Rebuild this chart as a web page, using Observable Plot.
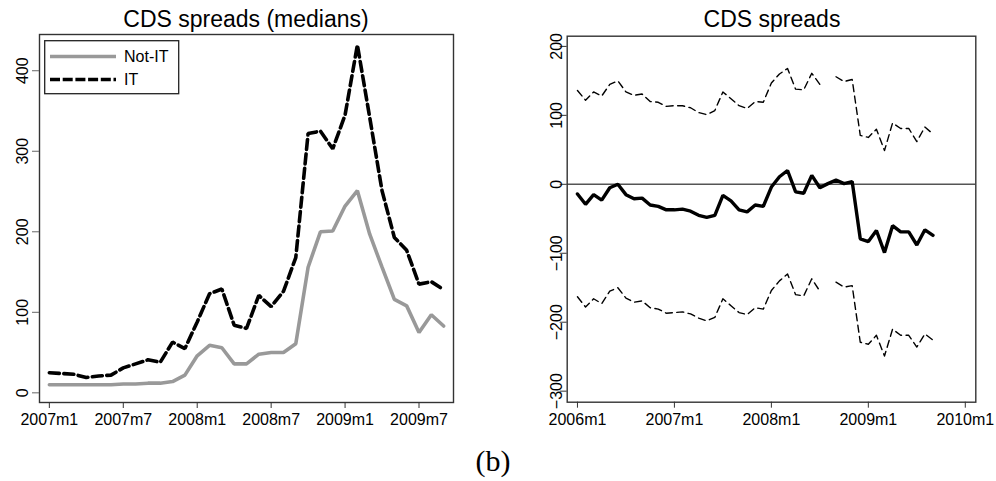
<!DOCTYPE html>
<html>
<head>
<meta charset="utf-8">
<script src="https://cdn.jsdelivr.net/npm/d3@7"></script>
<script src="https://cdn.jsdelivr.net/npm/@observablehq/plot@0.6"></script>
<style>
  html, body { margin: 0; padding: 0; background: #fff; }
  #wrap { position: relative; width: 996px; height: 481px; overflow: hidden; font-family: "Liberation Sans", Arial, sans-serif; }
  .title { position: absolute; font-size: 23px; line-height: 23px; color: #000; text-align: center; white-space: nowrap; }
  .panel { position: absolute; top: 0; }
  #cap { position: absolute; font-family: "Liberation Serif", "Times New Roman", serif; font-size: 30px; line-height: 30px; width: 996px; text-align: center; }
  #legend { position: absolute; }
  .panel svg g[aria-label="y-axis tick label"] { font-size: 16px; }
  .panel svg g[aria-label="x-axis tick label"] { font-size: 16px; }
</style>
</head>
<body>
<div id="wrap">
  <div id="left" class="panel" style="left:0px"></div>
  <div id="right" class="panel" style="left:498px"></div>
</div>
<script>
// ---------------- Data ----------------
// Left panel: CDS spreads (medians), monthly from 2007m1
const leftStart = "2007m1";
const notIT = [10,10,10,10,10,10,11,11,12,12,14,22,46,59,56,36,36,48,50,50,61,156,200,201,232,251,197,156,116,108,75,97,83];
const itSeries = [25,24,23,19,21,22,31,36,41,38,63,55,88,123,129,84,80,121,107,126,168,322,325,303,345,432,342,251,193,177,135,138,128];
const leftXTicks = ["2007m1","2007m7","2008m1","2008m7","2009m1","2009m7"];
const leftYTicks = [0,100,200,300,400];
const leftTitle = "CDS spreads (medians)";
const legendLabels = ["Not-IT","IT"];

// Right panel: CDS spreads coefficient with bands, monthly from 2006m1
const rightStart = "2006m1";
const coef  = [-14,-29,-15,-23,-5,0,-15,-21,-20,-30,-32,-37,-37,-36,-39,-45,-48,-45,-16,-24,-37,-40,-30,-32,-4,11,20,-11,-13,13,-5,1,6,1,4,-79,-83,-67,-99,-60,-69,-69,-88,-66,-74];
const upper = [136,122,134,128,145,150,134,129,131,120,119,113,114,114,111,104,101,107,134,124,114,110,120,119,147,160,168,138,137,161,145,null,156,149,152,71,68,80,49,89,81,81,62,83,73];
const lower = [-163,-178,-166,-173,-155,-150,-165,-171,-169,-179,-181,-187,-186,-185,-188,-194,-198,-193,-166,-176,-186,-189,-179,-181,-154,-140,-130,-160,-162,-137,-155,null,-142,-149,-147,-229,-232,-219,-249,-210,-219,-219,-236,-217,-226];
const rightXTicks = ["2006m1","2007m1","2008m1","2009m1","2010m1"];
const rightYTicks = [-300,-200,-100,0,100,200];
const rightTitle = "CDS spreads";
const caption = "(b)";

// ---------------- Helpers ----------------
const parseMonth = s => { const [y, m] = s.split("m").map(Number); return y * 12 + (m - 1); };
const fmtMonth = v => `${Math.floor(v / 12)}m${(v % 12) + 1}`;

const leftData = notIT.map((v, i) => ({t: parseMonth(leftStart) + i, notIT: v, it: itSeries[i]}));
const rightData = coef.map((v, i) => ({t: parseMonth(rightStart) + i, coef: v, upper: upper[i], lower: lower[i]}));

const FONT = "Liberation Sans, Arial, sans-serif";
const AX = "#333";

// ---------------- Left panel ----------------
const l0 = parseMonth(leftStart);
const leftPlot = Plot.plot({
  width: 498, height: 440,
  marginLeft: 39, marginRight: 45, marginTop: 34, marginBottom: 38,
  style: {fontFamily: FONT, fontSize: "16px", color: "#000", background: "transparent"},
  x: {domain: [l0 - 0.8, l0 + 32.8]},
  y: {domain: [-12, 445]},
  marks: [
    Plot.line(leftData, {x: "t", y: "notIT", stroke: "#999", strokeWidth: 3.6, strokeLinejoin: "miter"}),
    Plot.line(leftData, {x: "t", y: "it", stroke: "#000", strokeWidth: 3.6, strokeDasharray: "10,4.5", strokeLinejoin: "miter"}),
    Plot.frame({stroke: AX, strokeWidth: 1.4}),
    Plot.axisX({ticks: leftXTicks.map(parseMonth), tickFormat: fmtMonth, tickSize: 6, tickPadding: 5, stroke: AX, fontSize: 16, label: null}),
    Plot.axisY({ticks: leftYTicks, tickRotate: -90, tickSize: 7, tickPadding: 5, stroke: "#666", fontSize: 16, label: null})
  ]
});
document.getElementById("left").appendChild(leftPlot);

// ---------------- Right panel ----------------
const r0 = parseMonth(rightStart);
const rightPlot = Plot.plot({
  width: 498, height: 440,
  marginLeft: 68.7, marginRight: 20.7, marginTop: 35.7, marginBottom: 38.3,
  style: {fontFamily: FONT, fontSize: "16px", color: "#000", background: "transparent"},
  x: {domain: [r0 - 1.27, r0 + 49.3]},
  y: {domain: [-316, 214.8]},
  marks: [
    Plot.ruleY([0], {stroke: "#555", strokeWidth: 1.6}),
    Plot.line(rightData, {x: "t", y: "upper", stroke: "#000", strokeWidth: 1.4, strokeDasharray: "7,4.5"}),
    Plot.line(rightData, {x: "t", y: "lower", stroke: "#000", strokeWidth: 1.4, strokeDasharray: "7,4.5"}),
    Plot.line(rightData, {x: "t", y: "coef", stroke: "#000", strokeWidth: 3.4, strokeLinejoin: "miter"}),
    Plot.frame({stroke: AX, strokeWidth: 1.4}),
    Plot.axisX({ticks: rightXTicks.map(parseMonth), tickFormat: fmtMonth, tickSize: 6, tickPadding: 5, stroke: AX, fontSize: 16, label: null}),
    Plot.axisY({ticks: rightYTicks, tickRotate: -90, tickSize: 7, tickPadding: -2, stroke: AX, fontSize: 16, label: null})
  ]
});
document.getElementById("right").appendChild(rightPlot);

// ---------------- Titles, legend, caption ----------------
const wrap = document.getElementById("wrap");
function addTitle(text, cx) {
  const d = document.createElement("div");
  d.className = "title";
  d.textContent = text;
  d.style.top = "7.5px";
  d.style.left = (cx - 200) + "px";
  d.style.width = "400px";
  wrap.appendChild(d);
}
addTitle(leftTitle, 246);
addTitle(rightTitle, 772);

// Legend (top-left inside left frame)
const ns = "http://www.w3.org/2000/svg";
const lg = document.createElementNS(ns, "svg");
lg.setAttribute("width", 136); lg.setAttribute("height", 55);
lg.setAttribute("id", "legend");
lg.style.left = "44px"; lg.style.top = "39.5px";
lg.innerHTML = `
  <rect x="0.7" y="0.7" width="134" height="53" fill="#fff" stroke="#222" stroke-width="1.3"/>
  <line x1="6" x2="72" y1="16.5" y2="16.5" stroke="#999" stroke-width="3.6"/>
  <line x1="6" x2="72" y1="39.5" y2="39.5" stroke="#000" stroke-width="3.6" stroke-dasharray="10,2.7"/>
  <text x="80" y="22.3" font-family="${FONT}" font-size="16px">${legendLabels[0]}</text>
  <text x="80" y="45.3" font-family="${FONT}" font-size="16px">${legendLabels[1]}</text>`;
wrap.appendChild(lg);

const cap = document.createElement("div");
cap.id = "cap";
cap.textContent = caption;
cap.style.left = "-5px";
cap.style.top = "446px";
wrap.appendChild(cap);
</script>
</body>
</html>
